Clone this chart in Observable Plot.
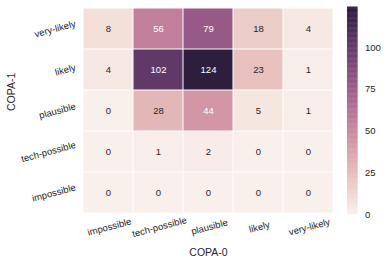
<!DOCTYPE html>
<html>
<head>
<meta charset="utf-8">
<script src="https://cdn.jsdelivr.net/npm/d3@7"></script>
<script src="https://cdn.jsdelivr.net/npm/@observablehq/plot@0.6"></script>
<style>
  html, body { margin: 0; padding: 0; background: #fff; }
  #wrap { position: relative; width: 387px; height: 265px; font-family: "Liberation Sans", Arial, sans-serif; }
  #wrap svg { position: absolute; top: 0; }
</style>
</head>
<body>
<div id="wrap"></div>
<script>
// COPA-0 categories (columns) and COPA-1 categories (rows, top to bottom)
const copa0 = ["impossible", "tech-possible", "plausible", "likely", "very-likely"];
const copa1 = ["very-likely", "likely", "plausible", "tech-possible", "impossible"];
// counts per COPA-1 row, ordered by copa0 columns
const rowVeryLikely   = [8, 56, 79, 18, 4];
const rowLikely       = [4, 102, 124, 23, 1];
const rowPlausible    = [0, 28, 44, 5, 1];
const rowTechPossible = [0, 1, 2, 0, 0];
const rowImpossible   = [0, 0, 0, 0, 0];
const colorbarTicks = [0, 25, 50, 75, 100];

const rows = [rowVeryLikely, rowLikely, rowPlausible, rowTechPossible, rowImpossible];
const table = [];
rows.forEach((vals, i) => vals.forEach((v, j) => table.push({x: copa0[j], y: copa1[i], v})));
const vmax = d3.max(table, d => d.v);

// seaborn cubehelix palette (light -> dark)
function cubehelix(t) {
  const light = 0.95, dark = 0.15, start = 0, rot = 0.4, gamma = 1, hue = 0.8;
  const x = light + (dark - light) * t;
  const xg = Math.pow(x, gamma);
  const a = hue * xg * (1 - xg) / 2;
  const phi = 2 * Math.PI * (start / 3 + rot * x);
  const f = (p0, p1) => Math.max(0, Math.min(1, xg + a * (p0 * Math.cos(phi) + p1 * Math.sin(phi))));
  return d3.rgb(f(-0.14861, 1.78277) * 255, f(-0.29227, -0.90649) * 255, f(1.97294, 0) * 255).formatHex();
}
function lum(c) {
  const r = d3.rgb(c);
  const lin = u => { u /= 255; return u <= 0.03928 ? u / 12.92 : Math.pow((u + 0.055) / 1.055, 2.4); };
  return 0.2126 * lin(r.r) + 0.7152 * lin(r.g) + 0.0722 * lin(r.b);
}
table.forEach(d => d.dark = lum(cubehelix(d.v / vmax)) < 0.408);

const txt = "#262626";
const colorScale = {type: "linear", domain: [0, vmax], interpolate: cubehelix};

const main = Plot.plot({
  width: 340, height: 265,
  marginLeft: 83, marginRight: 7, marginTop: 7, marginBottom: 51,
  style: {fontFamily: "Liberation Sans, Arial, sans-serif", fontSize: "9.5px", color: txt, background: "#fff"},
  x: {domain: copa0, padding: 0, label: null},
  y: {domain: copa1, padding: 0, label: null},
  color: colorScale,
  marks: [
    Plot.cell(table, {x: "x", y: "y", fill: "v", inset: 0.5}),
    Plot.text(table.filter(d => !d.dark), {x: "x", y: "y", text: d => String(d.v), fill: txt, fontSize: 9.5}),
    Plot.text(table.filter(d => d.dark), {x: "x", y: "y", text: d => String(d.v), fill: "white", fontSize: 9.5}),
    Plot.axisX({tickSize: 0, tickPadding: 9, tickRotate: -15, textAnchor: "middle", lineAnchor: "top", label: null, fontSize: 9.5, fill: txt}),
    Plot.axisY({tickSize: 0, tickPadding: 8, tickRotate: -15, textAnchor: "end", label: null, fontSize: 9.5, fill: txt}),
    Plot.text(["COPA-0"], {frameAnchor: "bottom", lineAnchor: "middle", dy: 38, fontSize: 10.5, fill: txt}),
    Plot.text(["COPA-1"], {frameAnchor: "left", lineAnchor: "middle", dx: -72, rotate: -90, fontSize: 10.5, fill: txt})
  ]
});
main.style.left = "0px";

const steps = d3.range(0, vmax, 0.5).map(s => ({a: s, b: Math.min(vmax, s + 0.5)}));
const bar = Plot.plot({
  width: 47, height: 265,
  marginLeft: 7, marginRight: 29.5, marginTop: 7, marginBottom: 51,
  style: {fontFamily: "Liberation Sans, Arial, sans-serif", fontSize: "9.5px", color: txt, background: "transparent"},
  x: {axis: null, domain: [0, 1]},
  y: {domain: [0, vmax], axis: null},
  color: colorScale,
  marks: [
    Plot.rectY(steps, {x1: 0, x2: 1, y1: "a", y2: d => d.b + 0.3, fill: d => (d.a + d.b) / 2}),
    Plot.axisY({anchor: "right", ticks: colorbarTicks, tickSize: 0, tickPadding: 7, label: null, fontSize: 9.5, fill: txt, textAnchor: "start"})
  ]
});
bar.style.left = "340px";

const wrap = document.getElementById("wrap");
wrap.appendChild(main);
wrap.appendChild(bar);

// centre rotated y tick labels vertically on their rows
const s = Math.sin(15 * Math.PI / 180);
main.querySelectorAll('g[aria-label="y-axis tick label"] text').forEach(t => {
  const L = t.getComputedTextLength();
  const tr = t.getAttribute("transform") || "";
  t.setAttribute("transform", `translate(0,${-L / 2 * s}) ` + tr);
});
</script>
</body>
</html>
